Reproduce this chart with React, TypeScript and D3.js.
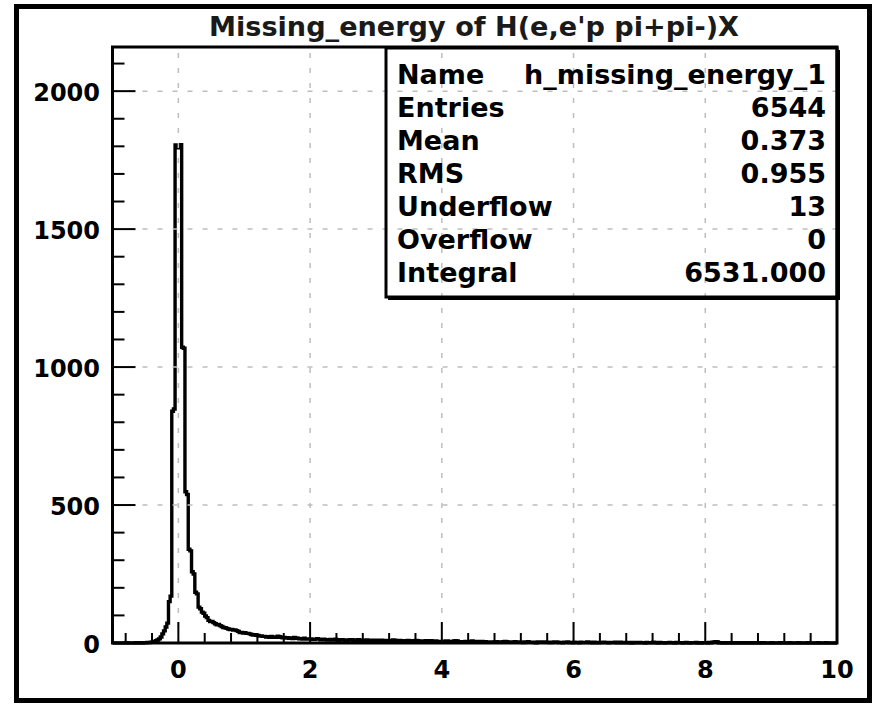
import React, { useEffect, useRef } from "react";
import * as d3 from "d3";

// ---------- data ----------
const title = "Missing_energy of H(e,e'p pi+pi-)X";
const xMin = -1;
const xMax = 10;
const binWidth = 0.025;
// bin contents, 440 bins of width 0.025 from -1 to 10 (one row = 0.5 units)
const counts: number[] = [
  /* -1.0 */ 0, 0, 0, 0, 0, 0, 0, 0, 1, 0, 0, 0, 0, 0, 1, 0, 0, 1, 0, 1,
  /* -0.5 */ 1, 2, 2, 3, 4, 5, 8, 11, 15, 22, 33, 44, 58, 72, 150, 170, 840, 848, 1805, 1795,
  /*  0.0 */ 1800, 1806, 1072, 1068, 548, 538, 340, 334, 258, 250, 184, 178, 130, 124, 112, 108, 98, 92, 82, 78,
  /*  0.5 */ 78, 74, 70, 66, 67, 63, 60, 56, 55, 53, 51, 49, 49, 47, 47, 45, 42, 38, 38, 36,
  /*  1.0 */ 37, 35, 35, 33, 31, 29, 30, 28, 27, 25, 26, 24, 24, 22, 23, 21, 24, 22, 21, 21,
  /*  1.5 */ 25, 23, 21, 19, 20, 18, 19, 17, 18, 16, 20, 18, 17, 15, 16, 14, 17, 15, 14, 14,
  /*  2.0 */ 15, 13, 13, 14, 16, 14, 12, 12, 14, 12, 11, 12, 13, 11, 12, 14, 11, 10, 12, 12,
  /*  2.5 */ 11, 10, 10, 11, 12, 12, 9, 10, 11, 12, 10, 9, 10, 9, 11, 10, 8, 8, 10, 10,
  /*  3.0 */ 9, 10, 10, 10, 8, 9, 9, 8, 7, 8, 11, 10, 8, 9, 9, 8, 7, 7, 8, 9,
  /*  3.5 */ 6, 7, 8, 8, 9, 8, 7, 7, 6, 6, 8, 7, 7, 8, 7, 6, 7, 6, 5, 5,
  /*  4.0 */ 6, 6, 7, 7, 5, 5, 6, 7, 8, 7, 5, 4, 4, 5, 6, 6, 5, 4, 7, 6,
  /*  4.5 */ 5, 6, 4, 4, 6, 5, 5, 4, 4, 3, 3, 4, 5, 5, 4, 3, 4, 5, 6, 5,
  /*  5.0 */ 4, 4, 3, 3, 5, 4, 4, 3, 3, 2, 4, 4, 5, 3, 3, 3, 2, 1, 4, 3,
  /*  5.5 */ 3, 4, 4, 3, 3, 2, 2, 3, 4, 4, 3, 2, 2, 1, 3, 3, 4, 2, 2, 1,
  /*  6.0 */ 3, 2, 2, 1, 3, 2, 2, 2, 4, 3, 2, 1, 3, 2, 1, 1, 2, 2, 3, 2,
  /*  6.5 */ 2, 1, 2, 2, 2, 3, 1, 1, 3, 2, 1, 1, 2, 2, 1, 0, 2, 1, 2, 1,
  /*  7.0 */ 2, 1, 1, 0, 2, 1, 1, 1, 3, 2, 1, 0, 2, 1, 1, 0, 1, 1, 2, 1,
  /*  7.5 */ 1, 0, 2, 1, 1, 1, 0, 1, 2, 1, 0, 1, 1, 1, 2, 0, 1, 0, 1, 1,
  /*  8.0 */ 1, 0, 2, 1, 3, 4, 5, 4, 1, 1, 0, 0, 1, 0, 1, 1, 0, 0, 1, 0,
  /*  8.5 */ 0, 1, 1, 0, 0, 1, 0, 0, 1, 1, 0, 0, 1, 0, 0, 1, 0, 0, 0, 0,
  /*  9.0 */ 1, 0, 0, 0, 0, 1, 0, 1, 0, 0, 0, 1, 0, 0, 0, 0, 1, 0, 0, 0,
  /*  9.5 */ 0, 0, 1, 0, 0, 0, 0, 0, 1, 0, 0, 0, 0, 1, 0, 0, 0, 0, 0, 0,
];
const yMaxAxis = 2160;
const xMajorTicks = [0, 2, 4, 6, 8, 10];
const xGridTicks = [0, 2, 4, 6, 8];
const yMajorTicks = [0, 500, 1000, 1500, 2000];
const yGridTicks = [500, 1000, 1500, 2000];
const statLabels = ["Name", "Entries", "Mean", "RMS", "Underflow", "Overflow", "Integral"];
const statValues = ["h_missing_energy_1", "6544", "0.373", "0.955", "13", "0", "6531.000"];

export default function App() {
  const ref = useRef<SVGSVGElement>(null);

  useEffect(() => {
    const svg = d3.select(ref.current);
    svg.selectAll("*").remove();

    const L = 112.5, R = 837, T = 47, B = 643;
    const x = d3.scaleLinear().domain([xMin, xMax]).range([L, R]);
    const y = d3.scaleLinear().domain([0, yMaxAxis]).range([B, T]);

    svg.append("rect").attr("x", 0).attr("y", 0).attr("width", 874).attr("height", 704).attr("fill", "#fff");
    // outer border
    svg.append("rect").attr("x", 16.5).attr("y", 6.5).attr("width", 853).attr("height", 694)
      .attr("fill", "none").attr("stroke", "#000").attr("stroke-width", 5);

    // title
    svg.append("text").attr("x", 474).attr("y", 36).attr("text-anchor", "middle")
      .attr("font-family", "'DejaVu Sans Condensed', 'DejaVu Sans', sans-serif")
      .attr("font-size", 26).attr("font-weight", "bold").attr("fill", "#1a1a1a")
      .attr("textLength", 530).attr("lengthAdjust", "spacingAndGlyphs")
      .text(title);

    // histogram
    const pts: [number, number][] = [[x(xMin), y(0)]];
    counts.forEach((c, i) => {
      const lo = xMin + i * binWidth;
      const hi = lo + binWidth;
      pts.push([x(lo), y(c)]);
      pts.push([x(hi), y(c)]);
    });
    pts.push([x(xMax), y(0)]);
    const line = d3.line<[number, number]>().x(d => d[0]).y(d => d[1]);
    svg.append("path").attr("d", line(pts) as string).attr("fill", "none")
      .attr("stroke", "#000").attr("stroke-width", 3.4).attr("stroke-linejoin", "miter");

    // grid (drawn over histogram)
    const grid = svg.append("g").attr("stroke", "#bdbdbd").attr("stroke-width", 1.5)
      .attr("stroke-dasharray", "5 10");
    xGridTicks.forEach(t => {
      grid.append("line").attr("x1", x(t)).attr("x2", x(t)).attr("y1", B).attr("y2", T);
    });
    yGridTicks.forEach(t => {
      grid.append("line").attr("x1", L).attr("x2", R).attr("y1", y(t)).attr("y2", y(t));
    });

    // frame
    svg.append("rect").attr("x", L).attr("y", T).attr("width", R - L).attr("height", B - T)
      .attr("fill", "none").attr("stroke", "#000").attr("stroke-width", 3);

    // ticks
    const ticks = svg.append("g").attr("stroke", "#000").attr("stroke-width", 2);
    const xMinor = d3.range(-0.8, 10.001, 0.4).filter(v => !xMajorTicks.some(m => Math.abs(m - v) < 1e-6));
    xMajorTicks.forEach(t => {
      ticks.append("line").attr("x1", x(t)).attr("x2", x(t)).attr("y1", B).attr("y2", B - 21);
    });
    xMinor.forEach(t => {
      ticks.append("line").attr("x1", x(t)).attr("x2", x(t)).attr("y1", B).attr("y2", B - 10);
    });
    const yMinor = d3.range(100, yMaxAxis, 100).filter(v => v % 500 !== 0);
    yMajorTicks.forEach(t => {
      ticks.append("line").attr("x1", L).attr("x2", L + 23).attr("y1", y(t)).attr("y2", y(t));
    });
    yMinor.forEach(t => {
      ticks.append("line").attr("x1", L).attr("x2", L + 12).attr("y1", y(t)).attr("y2", y(t));
    });

    // tick labels
    const lab = svg.append("g").attr("font-family", "'DejaVu Sans', sans-serif")
      .attr("font-weight", "bold").attr("font-size", 24).attr("fill", "#000");
    xMajorTicks.forEach(t => {
      lab.append("text").attr("x", x(t)).attr("y", 678).attr("text-anchor", "middle").text(String(t));
    });
    yMajorTicks.forEach(t => {
      lab.append("text").attr("x", 100).attr("y", y(t) + 10).attr("text-anchor", "end").text(String(t));
    });

    // stats box
    const sx0 = 386, sx1 = 837, sy0 = 48, sy1 = 297;
    svg.append("rect").attr("x", sx0).attr("y", sy0).attr("width", sx1 - sx0).attr("height", sy1 - sy0)
      .attr("fill", "none").attr("stroke", "#000").attr("stroke-width", 3);
    svg.append("line").attr("x1", sx0 + 2).attr("x2", sx1 + 1.5).attr("y1", sy1 + 2).attr("y2", sy1 + 2)
      .attr("stroke", "#000").attr("stroke-width", 2);
    svg.append("line").attr("x1", sx1 + 2).attr("x2", sx1 + 2).attr("y1", sy0 + 2).attr("y2", sy1 + 3)
      .attr("stroke", "#000").attr("stroke-width", 2);
    const st = svg.append("g").attr("font-family", "'DejaVu Sans', sans-serif")
      .attr("font-weight", "bold").attr("font-size", 27).attr("fill", "#000");
    statLabels.forEach((s, i) => {
      st.append("text").attr("x", 397).attr("y", 84 + i * 33).text(s);
    });
    statValues.forEach((s, i) => {
      st.append("text").attr("x", 826).attr("y", 84 + i * 33).attr("text-anchor", "end").text(s);
    });
  }, []);

  return (
    <svg ref={ref} width={874} height={704}
      style={{ position: "absolute", left: 0, top: 0, display: "block" }} />
  );
}
